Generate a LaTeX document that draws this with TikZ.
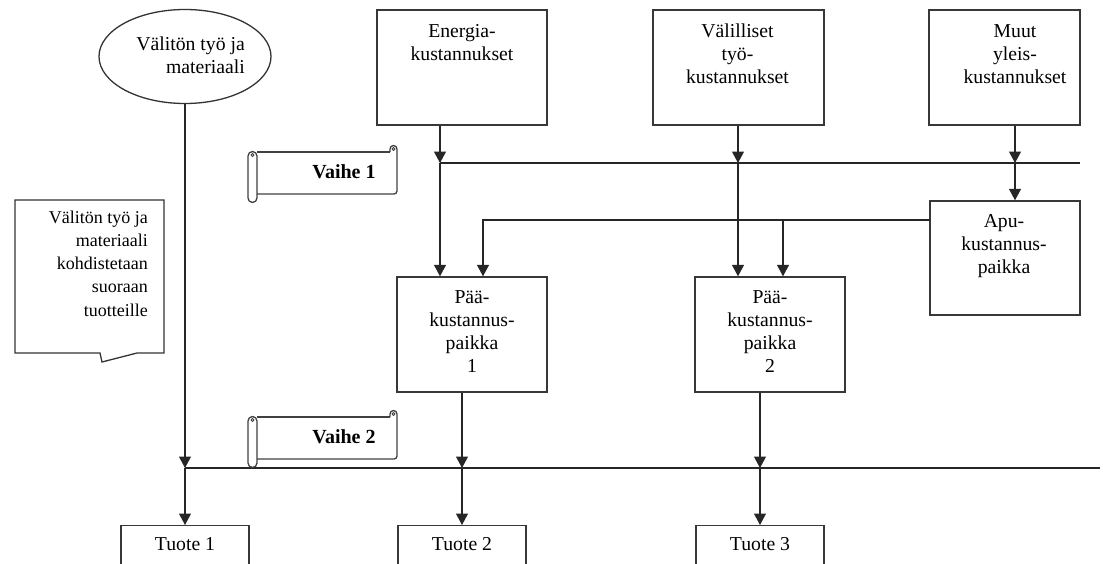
\documentclass[tikz,border=0pt]{standalone}
\usepackage{fontspec}
\setmainfont{Liberation Serif}
\usetikzlibrary{shapes.geometric,arrows.meta}

% centred block of lines, first baseline on the node's base anchor
\newcommand{\centerlines}[2]{\parbox[t]{#1pt}{\centering #2}}
\newcommand{\rightlines}[2]{\parbox[t]{#1pt}{\raggedleft #2}}

\tikzset{
  box/.style={draw=black!78, line width=1.4pt, rectangle, inner sep=0pt},
  txt/.style={inner sep=0pt, anchor=base, font=\fontsize{19.7}{23}\selectfont},
  calltxt/.style={inner sep=0pt, anchor=base east, font=\fontsize{18}{23.3}\selectfont},
  phase/.style={inner sep=0pt, anchor=base, font=\fontsize{20}{23}\selectfont\bfseries},
  flow/.style={draw=black!85, line width=1.2pt, -{Triangle[width=12pt,length=11.5pt]}},
  plain/.style={draw=black!85, line width=1.2pt},
  bus/.style={draw=black!85, line width=1.7pt},
  scrollline/.style={draw=black!75, line width=1.3pt, line join=round},
}

\begin{document}
\begin{tikzpicture}[x=1pt, y=-1pt]
\useasboundingbox (0,0) rectangle (1104,563);
\clip (0,0) rectangle (1104,563);

% ---- source of direct costs
\node[ellipse, draw=black!80, line width=1.3pt, minimum width=172pt, minimum height=94pt, inner sep=0pt]
  (direct) at (185,56.5) {};
\node[txt, anchor=base east] (directtxt) at (245,50) {\rightlines{120}{Välitön työ ja\\materiaali}};

% ---- cost boxes on top
\node[box, minimum width=170pt, minimum height=115pt] (energy) at (462,67.5) {};
\node[txt] (energytxt) at (462,37) {\centerlines{165}{Energia-\\kustannukset}};

\node[box, minimum width=171pt, minimum height=115pt] (indirect) at (738.5,67.5) {};
\node[txt] (indirecttxt) at (737.5,37) {\centerlines{165}{Välilliset\\työ-\\kustannukset}};

\node[box, minimum width=151pt, minimum height=115pt] (other) at (1004.5,67.5) {};
\node[txt] (othertxt) at (1015,37) {\centerlines{145}{Muut\\yleis-\\kustannukset}};

% ---- cost centres
\node[box, minimum width=150pt, minimum height=114pt] (aux) at (1005,258) {};
\node[txt] (auxtxt) at (1004,227) {\centerlines{145}{Apu-\\kustannus-\\paikka}};

\node[box, minimum width=150pt, minimum height=115pt] (main1) at (472,334.5) {};
\node[txt] (main1txt) at (472,303) {\centerlines{145}{Pää-\\kustannus-\\paikka\\1}};

\node[box, minimum width=150pt, minimum height=115pt] (main2) at (770,334.5) {};
\node[txt] (main2txt) at (770,303) {\centerlines{145}{Pää-\\kustannus-\\paikka\\2}};

% ---- products (their lower edges run off the page)
\node[box, minimum width=128pt, minimum height=70pt, anchor=north] (prod1) at (185,525) {};
\node[txt] (prod1txt) at (185,550) {Tuote 1};
\node[box, minimum width=128pt, minimum height=70pt, anchor=north] (prod2) at (462,525) {};
\node[txt] (prod2txt) at (462,550) {Tuote 2};
\node[box, minimum width=128pt, minimum height=70pt, anchor=north] (prod3) at (760,525) {};
\node[txt] (prod3txt) at (760,550) {Tuote 3};

% ---- junctions on the two allocation lines
\coordinate (s1a) at (440,163);
\coordinate (s1b) at (738,163);
\coordinate (s1c) at (1015,163);
\coordinate (s1end) at (1080,163);
\coordinate (s2a) at (185,468);
\coordinate (s2b) at (462,468);
\coordinate (s2c) at (760,468);
\coordinate (s2end) at (1100,468);
\coordinate (auxleft) at (930,220);
\coordinate (aux2) at (783,220);
\coordinate (aux1) at (483,220);

% ---- allocation lines
\draw[bus, line width=1.4pt] (s1a) -- (s1end);
\draw[bus] (s2a) -- (s2end);

% ---- stage 1 flows
\draw[flow] (s1a |- energy.south) -- (s1a);
\draw[flow] (s1a) -- (s1a |- main1.north);
\draw[flow] (s1b |- indirect.south) -- (s1b);
\draw[flow] (s1b) -- (s1b |- main2.north);
\draw[flow] (s1c |- other.south) -- (s1c);
\draw[flow] (s1c) -- (s1c |- aux.north);

% ---- auxiliary cost centre shared out
\draw[plain] (auxleft) -- (aux2);
\draw[flow] (aux2) -- (aux1) -- (aux1 |- main1.north);
\draw[flow] (aux2) -- (aux2 |- main2.north);

% ---- stage 2 flows
\draw[flow] (direct.south) -- (s2a);
\draw[flow] (s2a) -- (prod1.north);
\draw[flow] (s2b |- main1.south) -- (s2b);
\draw[flow] (s2b) -- (prod2.north);
\draw[flow] (s2c |- main2.south) -- (s2c);
\draw[flow] (s2c) -- (prod3.north);

% ---- stage banners (horizontal scrolls)
\foreach \top/\label/\name in {152/Vaihe 1/stageone, 417/Vaihe 2/stagetwo}{
  \begin{scope}[shift={(0,\top)}]
    % rolled left end
    \draw[scrollline, fill=white] (248,4) -- (248,46) arc[start angle=180, end angle=360, radius=4.5pt]
      -- (257,4) arc[start angle=0, end angle=180, radius=4.5pt] -- cycle;
    \draw[scrollline, line width=0.9pt] (252.5,3) circle[radius=1.6pt];
    % sheet with its curled right corner
    \draw[scrollline] (257,0) -- (390,0);
    \draw[scrollline] (390,0) -- (390,-3) arc[start angle=180, end angle=0, radius=3.5pt]
      -- (397,39) arc[start angle=0, end angle=-90, radius=3pt] -- (257,42);
    \draw[scrollline, line width=0.9pt] (393.5,-3) circle[radius=1.5pt];
  \end{scope}
  \node[phase] (\name) at (344,\top+26) {\label};
}

% ---- note on direct costs
\draw[draw=black!80, line width=1.3pt, line join=miter]
  (15,200) -- (164,200) -- (164,353) -- (137,353) -- (102,362) -- (100,353) -- (15,353) -- cycle;
\node[calltxt] (notetxt) at (148,223) {\rightlines{135}{Välitön työ ja\\materiaali\\kohdistetaan\\suoraan\\tuotteille}};

\end{tikzpicture}
\end{document}
